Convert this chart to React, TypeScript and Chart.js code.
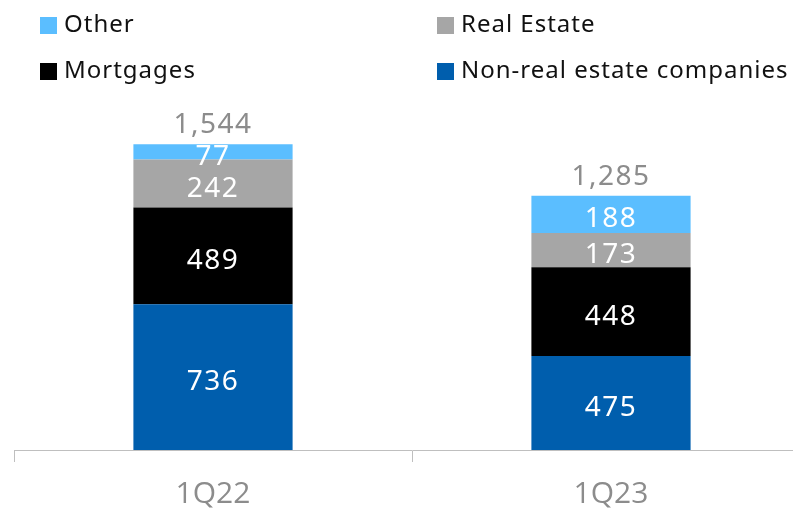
import React, { useEffect, useRef } from "react";
import { Chart, registerables } from "chart.js";

Chart.register(...registerables);

const categories = ["1Q22", "1Q23"];
const nonRealEstate = [736, 475];
const mortgages = [489, 448];
const realEstate = [242, 173];
const other = [77, 188];
const totals = [1544, 1285];

const seriesNames = ["Non-real estate companies", "Mortgages", "Real Estate", "Other"];
const seriesColors = ["#005EAD", "#000000", "#A6A6A6", "#5BBEFF"];
const legendOrder = [3, 2, 1, 0];

const LABEL_FONT = '28px "Noto Sans"';
const LEGEND_FONT = '24px "Noto Sans"';

const labelPlugin = {
  id: "segLabels",
  afterDatasetsDraw(chart: any) {
    const ctx = chart.ctx;
    ctx.save();
    ctx.textAlign = "center";
    ctx.textBaseline = "middle";
    ctx.font = LABEL_FONT;
    (ctx as any).letterSpacing = "1.5px";
    chart.data.datasets.forEach((ds: any, di: number) => {
      const meta = chart.getDatasetMeta(di);
      meta.data.forEach((bar: any, i: number) => {
        const cy = (bar.y + bar.base) / 2 + 5;
        ctx.fillStyle = "#ffffff";
        ctx.fillText(String(ds.data[i]), bar.x, cy);
      });
    });
    const lastMeta = chart.getDatasetMeta(chart.data.datasets.length - 1);
    lastMeta.data.forEach((bar: any, i: number) => {
      ctx.fillStyle = "#8C8C8C";
      ctx.fillText(totals[i].toLocaleString("en-US"), bar.x, bar.y - 19);
    });
    ctx.restore();
  },
};

const legendPlugin = {
  id: "gridLegend",
  afterDraw(chart: any) {
    const ctx = chart.ctx;
    const colX = [40, 437];
    const rowY = [25, 71];
    ctx.save();
    ctx.font = LEGEND_FONT;
    (ctx as any).letterSpacing = "1px";
    ctx.textBaseline = "middle";
    ctx.textAlign = "left";
    legendOrder.forEach((di, k) => {
      const x = colX[k % 2];
      const y = rowY[Math.floor(k / 2)];
      ctx.fillStyle = seriesColors[di];
      ctx.fillRect(x, y - 8, 17, 17);
      ctx.fillStyle = "#111111";
      ctx.fillText(seriesNames[di], x + 24, y);
    });
    ctx.restore();
  },
};

export default function App() {
  const ref = useRef<HTMLCanvasElement | null>(null);
  useEffect(() => {
    document.body.style.margin = "0";
    const seriesData = [nonRealEstate, mortgages, realEstate, other];
    const chart = new Chart(ref.current as HTMLCanvasElement, {
      type: "bar",
      data: {
        labels: categories,
        datasets: seriesData.map((d, i) => ({
          label: seriesNames[i],
          data: d,
          backgroundColor: seriesColors[i],
          borderWidth: 0,
          categoryPercentage: 1,
          barPercentage: 0.4,
        })),
      },
      options: {
        animation: false,
        responsive: false,
        layout: { padding: { left: 14, right: 2, top: 100, bottom: 0 } },
        plugins: { legend: { display: false }, tooltip: { enabled: false } },
        scales: {
          x: {
            stacked: true,
            grid: {
              offset: true,
              drawOnChartArea: false,
              drawTicks: true,
              tickLength: 12,
              color: "#BFBFBF",
              lineWidth: 1,
            },
            border: { display: true, color: "#BFBFBF", width: 1 },
            ticks: {
              color: "#8C8C8C",
              font: { family: '"Open Sans"', size: 30 },
              padding: 14,
            },
            afterFit(scale: any) {
              scale.height = 58;
            },
          },
          y: {
            stacked: true,
            display: false,
            min: 0,
            max: 1768,
          },
        },
      },
      plugins: [labelPlugin, legendPlugin],
    } as any);
    return () => chart.destroy();
  }, []);
  return (
    <div style={{ position: "absolute", left: 0, top: 0, width: 793, height: 508, overflow: "hidden", background: "#fff" }}>
      <canvas ref={ref} width={812} height={508} style={{ display: "block" }} />
    </div>
  );
}
